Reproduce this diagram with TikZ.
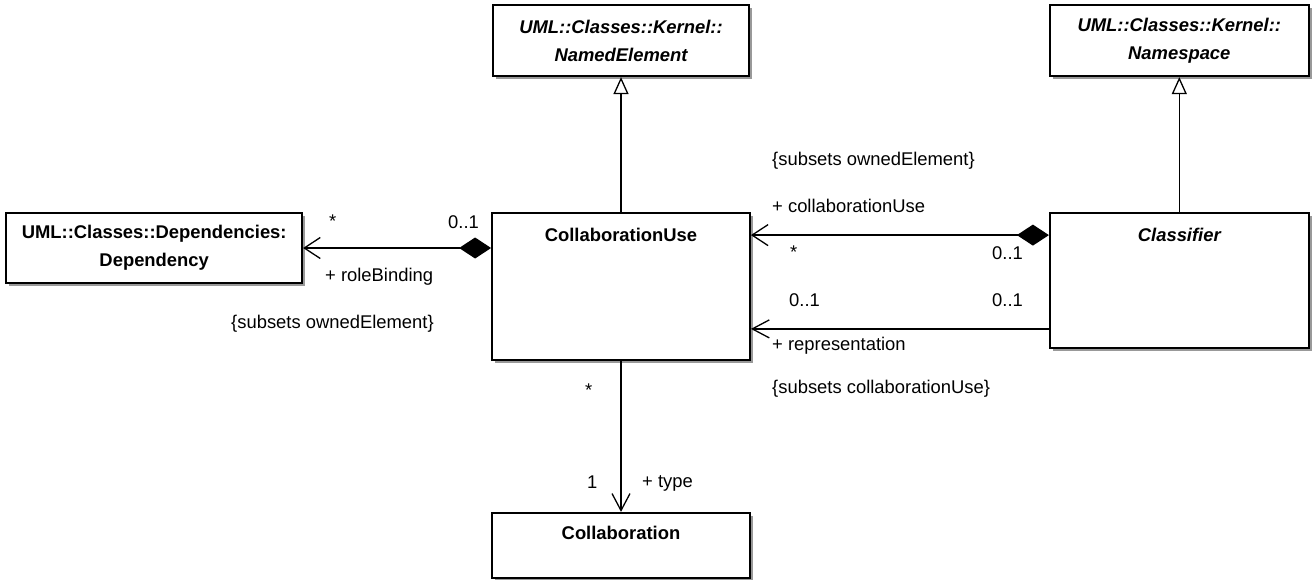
\documentclass[tikz,border=0pt]{standalone}
\usepackage{fontspec}
\setmainfont{Liberation Sans}
\usepackage{tikz}
\usetikzlibrary{arrows.meta,positioning,shadows}
\newcommand{\umlfont}{\fontsize{18.4}{28}\selectfont}
\tikzstyle{umlbox}    = [rectangle, draw, line width=1.8pt, fill=white,
                         inner sep=0pt, align=center, font=\umlfont\bfseries,
                         drop shadow={shadow xshift=3pt, shadow yshift=-3pt,
                         fill=black!40, opacity=1}]
\tikzstyle{abstract}  = [font=\umlfont\bfseries\itshape]
\tikzstyle{clsname}   = [inner sep=0pt, font=\umlfont\bfseries]
\tikzstyle{mult}      = [inner sep=0pt, anchor=base west, font=\umlfont]
\tikzstyle{genarrow}  = [-{Triangle[open, length=17pt, width=15pt, fill=white]},
                         line width=1.3pt]
\tikzstyle{comparrow} = [{Diamond[length=32pt, width=21pt]}-{Straight Barb[length=16pt, width=21pt]},
                         line width=1.3pt]
\tikzstyle{navarrow}  = [-{Straight Barb[length=17pt, width=18pt]}, line width=1.3pt]

\begin{document}
\begin{tikzpicture}[x=1pt, y=1pt]
\useasboundingbox (0,0) rectangle (1313,-579);
% Classes
\node[umlbox, minimum width=258pt, minimum height=147pt] (cu) at (621,-286.5) {};
\node[clsname, anchor=base] (cuname) at ([yshift=-29pt]cu.north) {CollaborationUse};
\node[umlbox, abstract, minimum width=256pt, minimum height=71pt, above=135pt of cu] (ne)
  {UML::Classes::Kernel::\\NamedElement};
\node[umlbox, minimum width=258pt, minimum height=65pt, below=151pt of cu] (col) {};
\node[clsname, anchor=base] (colname) at ([yshift=-28pt]col.north) {Collaboration};
\node[umlbox, minimum width=296pt, minimum height=70pt, below left=0pt and 188pt of cu.north west] (dep)
  {UML::Classes::Dependencies:\\Dependency};
\node[umlbox, minimum width=259pt, minimum height=135pt, below right=0pt and 298pt of cu.north east] (cls) {};
\node[clsname, font=\umlfont\bfseries\itshape, anchor=base] (clsname) at ([yshift=-29pt]cls.north) {Classifier};
\node[umlbox, abstract, minimum width=259pt, minimum height=71pt, above=135pt of cls] (ns)
  {UML::Classes::Kernel::\\Namespace};
% Connector ends on Classifier
\coordinate (cmp) at ([yshift=-23pt]cls.north west);
\coordinate (rep) at ([yshift=20pt]cls.south west);
% Arrows
\draw[genarrow] (cu.north) -- (ne.south);
\draw[genarrow] (cls.north) -- (ns.south);
\draw[comparrow] (cu.west |- dep.east) -- (dep.east);
\draw[comparrow] (cmp) -- (cmp -| cu.east);
\draw[navarrow] (rep) -- (rep -| cu.east);
\draw[navarrow] (cu.south) -- (col.north);
% Role names and multiplicities
\node[mult] (depmult) at (329,-227) {*};
\node[mult] (cumult) at (448,-228) {0..1};
\node[mult] (rolebind) at (325,-281) {+ roleBinding};
\node[mult] (subsleft) at (231,-328.5) {\{subsets ownedElement\}};
\node[mult] (subsright) at (772,-165.5) {\{subsets ownedElement\}};
\node[mult] (cuserole) at (772,-212) {+ collaborationUse};
\node[mult] (cusemult) at (790,-258) {*};
\node[mult] (clsmult) at (992,-259) {0..1};
\node[mult] (repmult) at (789,-306) {0..1};
\node[mult] (clsrepmult) at (992,-306) {0..1};
\node[mult] (reprole) at (772,-350) {+ representation};
\node[mult] (subscuse) at (772,-393.5) {\{subsets collaborationUse\}};
\node[mult] (typemult) at (585,-396) {*};
\node[mult] (colmult) at (587,-488) {1};
\node[mult] (typerole) at (642,-487) {+ type};
\end{tikzpicture}
\end{document}
